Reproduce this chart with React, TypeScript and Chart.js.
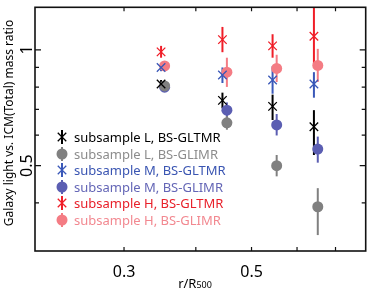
import React, { useEffect, useRef } from "react";
import { Chart, registerables } from "chart.js";
Chart.register(...registerables);

// x positions (r/R500) for the two marker families
const xT = [0.348, 0.445, 0.544, 0.642];
const xI = [0.353, 0.453, 0.553, 0.652];

// subsample L
const lT = [0.815, 0.739, 0.713, 0.631];
const lTLo = [0.797, 0.705, 0.657, 0.533];
const lTHi = [0.835, 0.774, 0.765, 0.697];
const lI = [0.806, 0.646, 0.5, 0.391];
const lILo = [0.788, 0.62, 0.469, 0.33];
const lIHi = [0.825, 0.673, 0.533, 0.437];
// subsample M
const mT = [0.9, 0.86, 0.835, 0.815];
const mTLo = [0.88, 0.82, 0.769, 0.751];
const mTHi = [0.922, 0.9, 0.906, 0.875];
const mI = [0.8, 0.697, 0.638, 0.552];
const mILo = [0.782, 0.665, 0.599, 0.509];
const mIHi = [0.818, 0.73, 0.681, 0.595];
// subsample H
const hT = [0.988, 1.063, 1.024, 1.085];
const hTLo = [0.954, 0.986, 0.954, 0.916];
const hTHi = [1.024, 1.147, 1.098, 1.285];
const hI = [0.908, 0.875, 0.895, 0.911];
const hILo = [0.882, 0.801, 0.825, 0.825];
const hIHi = [0.935, 0.954, 0.971, 1.006];

const labels = [
  "subsample L, BS-GLTMR",
  "subsample L, BS-GLIMR",
  "subsample M, BS-GLTMR",
  "subsample M, BS-GLIMR",
  "subsample H, BS-GLTMR",
  "subsample H, BS-GLIMR",
];
const markerColors = ["#000000", "#808080", "#3a58b8", "#5b5eb2", "#f01e28", "#f47c84"];
const textColors = ["#000000", "#8c8c8c", "#3a55b2", "#6466b6", "#e8202a", "#f28890"];
const styles = ["crossRot", "circle", "crossRot", "circle", "crossRot", "circle"];

const xTicks = [0.3, 0.4, 0.5, 0.6, 0.7];
const xTickLabels = ["0.3", "", "0.5", "", ""];
const yTicks = [0.4, 0.5, 0.6, 0.7, 0.8, 0.9, 1.0];
const yTickLabels = ["", "0.5", "", "", "", "", "1"];

const FONT = "'Noto Sans', 'Open Sans', sans-serif";

export default function App() {
  const ref = useRef<HTMLCanvasElement>(null);
  useEffect(() => {
    document.body.style.margin = "0";
    const vals = [lT, lI, mT, mI, hT, hI];
    const los = [lTLo, lILo, mTLo, mILo, hTLo, hILo];
    const his = [lTHi, lIHi, mTHi, mIHi, hTHi, hIHi];
    const datasets = vals.map((v, i) => {
      const xs = i % 2 === 0 ? xT : xI;
      const isX = styles[i] === "crossRot";
      return {
        label: labels[i],
        data: v.map((y, j) => ({ x: xs[j], y })),
        pointStyle: styles[i],
        radius: isX ? 6 : 5.5,
        borderColor: markerColors[i],
        backgroundColor: markerColors[i],
        borderWidth: isX ? 1.3 : 0,
        showLine: false,
      };
    });

    const plugin = {
      id: "custom",
      beforeDatasetsDraw(chart: any) {
        const ctx = chart.ctx;
        const xs = chart.scales.x;
        const ys = chart.scales.y;
        for (let i = vals.length - 1; i >= 0; i--) {
          const px = i % 2 === 0 ? xT : xI;
          ctx.save();
          ctx.strokeStyle = markerColors[i];
          ctx.lineWidth = 2;
          for (let j = 0; j < vals[i].length; j++) {
            const x = xs.getPixelForValue(px[j]);
            ctx.beginPath();
            ctx.moveTo(x, ys.getPixelForValue(los[i][j]));
            ctx.lineTo(x, ys.getPixelForValue(his[i][j]));
            ctx.stroke();
          }
          ctx.restore();
        }
      },
      afterDraw(chart: any) {
        const ctx = chart.ctx;
        const a = chart.chartArea;
        const xs = chart.scales.x;
        const ys = chart.scales.y;
        ctx.save();
        // frame
        ctx.strokeStyle = "#111";
        ctx.lineWidth = 1.6;
        ctx.strokeRect(a.left, a.top, a.right - a.left, a.bottom - a.top);
        ctx.lineWidth = 1.2;
        // x ticks
        xTicks.forEach((t, k) => {
          const x = xs.getPixelForValue(t);
          ctx.beginPath();
          ctx.moveTo(x, a.bottom);
          ctx.lineTo(x, a.bottom - 4);
          ctx.moveTo(x, a.top);
          ctx.lineTo(x, a.top + 4);
          ctx.stroke();
          if (xTickLabels[k]) {
            ctx.fillStyle = "#000";
            ctx.font = `16px ${FONT}`;
            ctx.textAlign = "center";
            ctx.textBaseline = "alphabetic";
            ctx.fillText(xTickLabels[k], x, 277);
          }
        });
        // y ticks
        yTicks.forEach((t, k) => {
          const y = ys.getPixelForValue(t);
          const len = yTickLabels[k] ? 6 : 4;
          ctx.beginPath();
          ctx.moveTo(a.left, y);
          ctx.lineTo(a.left + len, y);
          ctx.moveTo(a.right, y);
          ctx.lineTo(a.right - len, y);
          ctx.stroke();
          if (yTickLabels[k]) {
            ctx.save();
            ctx.translate(32, y);
            ctx.rotate(-Math.PI / 2);
            ctx.fillStyle = "#000";
            ctx.font = `16px ${FONT}`;
            ctx.textAlign = "center";
            ctx.textBaseline = "alphabetic";
            ctx.fillText(yTickLabels[k], 0, 0);
            ctx.restore();
          }
        });
        // y title
        ctx.save();
        ctx.translate(13, 123);
        ctx.rotate(-Math.PI / 2);
        ctx.fillStyle = "#000";
        ctx.font = `12px ${FONT}`;
        ctx.textAlign = "center";
        ctx.textBaseline = "alphabetic";
        ctx.fillText("Galaxy light vs. ICM(Total) mass ratio", 0, 0);
        ctx.restore();
        // x title r/R500
        ctx.fillStyle = "#000";
        ctx.textAlign = "left";
        ctx.textBaseline = "alphabetic";
        ctx.font = `13px ${FONT}`;
        const main = "r/R";
        const sub = "500";
        const w1 = ctx.measureText(main).width;
        ctx.font = `9px ${FONT}`;
        const w2 = ctx.measureText(sub).width;
        const sx = 195 - (w1 + w2) / 2;
        ctx.font = `13px ${FONT}`;
        ctx.fillText(main, sx, 288);
        ctx.font = `9px ${FONT}`;
        ctx.fillText(sub, sx + w1, 288);
        // legend
        const rowY = [137, 154, 170, 187, 203, 220];
        labels.forEach((lab, i) => {
          const cx = 62;
          const cy = rowY[i];
          ctx.strokeStyle = markerColors[i];
          ctx.fillStyle = markerColors[i];
          ctx.lineWidth = 2;
          ctx.beginPath();
          ctx.moveTo(cx, cy - 7);
          ctx.lineTo(cx, cy + 7);
          ctx.stroke();
          if (styles[i] === "circle") {
            ctx.beginPath();
            ctx.arc(cx, cy, 5.5, 0, Math.PI * 2);
            ctx.fill();
          } else {
            ctx.lineWidth = 1.3;
            const r = 6 * Math.SQRT1_2;
            ctx.beginPath();
            ctx.moveTo(cx - r, cy - r);
            ctx.lineTo(cx + r, cy + r);
            ctx.moveTo(cx + r, cy - r);
            ctx.lineTo(cx - r, cy + r);
            ctx.stroke();
          }
          ctx.fillStyle = textColors[i];
          ctx.font = `13px ${FONT}`;
          ctx.textAlign = "left";
          ctx.textBaseline = "middle";
          ctx.fillText(lab, 74, cy + 1);
        });
        ctx.restore();
      },
    };

    const chart = new Chart(ref.current!, {
      type: "scatter",
      data: { datasets },
      options: {
        animation: false,
        responsive: false,
        layout: { padding: { left: 35, right: 3, top: 1, bottom: 41 } },
        plugins: { legend: { display: false }, tooltip: { enabled: false } },
        scales: {
          x: { type: "logarithmic", min: 0.21, max: 0.79, display: false },
          y: { type: "logarithmic", min: 0.301, max: 1.29, display: false },
        },
      },
      plugins: [plugin],
    } as any);
    return () => chart.destroy();
  }, []);
  return (
    <div style={{ width: 373, height: 292 }}>
      <canvas ref={ref} width={373} height={292} style={{ display: "block" }} />
    </div>
  );
}
